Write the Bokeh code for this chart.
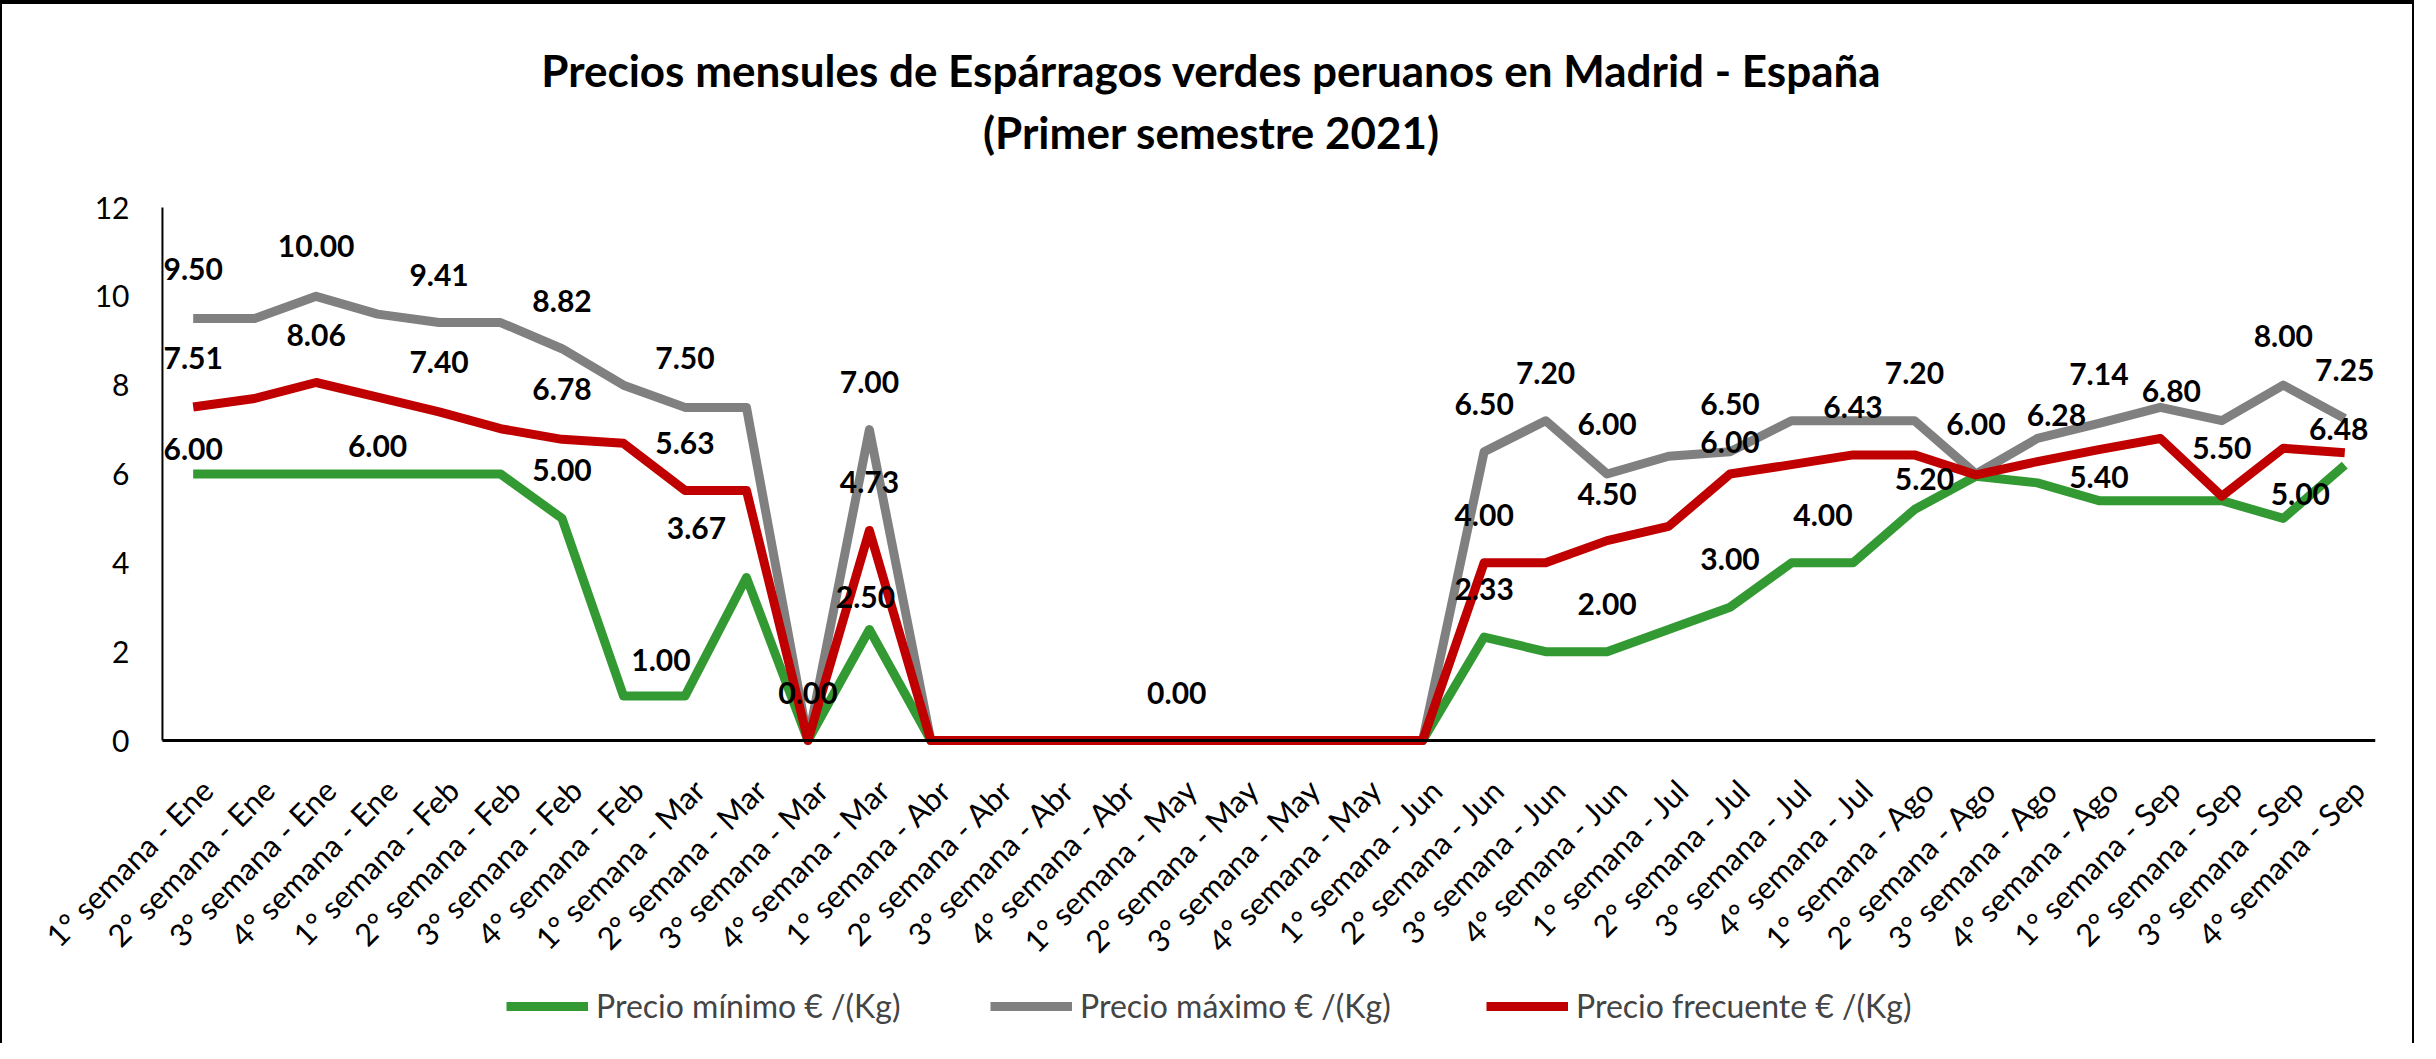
import math
from bokeh.plotting import figure
from bokeh.models import (ColumnDataSource, FactorRange, Range1d,
                          Legend, LegendItem, Label)
from bokeh.embed import file_html
from bokeh.resources import INLINE
from bokeh.core.properties import value

# ---------------- data ----------------
title_lines = ["Precios mensules de Espárragos verdes peruanos en Madrid - España",
               "(Primer semestre 2021)"]

categories = [
    "1° semana - Ene", "2° semana - Ene", "3° semana - Ene", "4° semana - Ene",
    "1° semana - Feb", "2° semana - Feb", "3° semana - Feb", "4° semana - Feb",
    "1° semana - Mar", "2° semana - Mar", "3° semana - Mar", "4° semana - Mar",
    "1° semana - Abr", "2° semana - Abr", "3° semana - Abr", "4° semana - Abr",
    "1° semana - May", "2° semana - May", "3° semana - May", "4° semana - May",
    "1° semana - Jun", "2° semana - Jun", "3° semana - Jun", "4° semana - Jun",
    "1° semana - Jul", "2° semana - Jul", "3° semana - Jul", "4° semana - Jul",
    "1° semana - Ago", "2° semana - Ago", "3° semana - Ago", "4° semana - Ago",
    "1° semana - Sep", "2° semana - Sep", "3° semana - Sep", "4° semana - Sep",
]

precio_minimo = [6.00, 6.00, 6.00, 6.00, 6.00, 6.00, 5.00, 1.00, 1.00, 3.67, 0.00, 2.50,
                 0.00, 0.00, 0.00, 0.00, 0.00, 0.00, 0.00, 0.00, 0.00,
                 2.33, 2.00, 2.00, 2.50, 3.00, 4.00, 4.00, 5.20, 5.95, 5.80, 5.40,
                 5.40, 5.40, 5.00, 6.20]

precio_maximo = [9.50, 9.50, 10.00, 9.60, 9.41, 9.41, 8.82, 8.00, 7.50, 7.50, 0.00, 7.00,
                 0.00, 0.00, 0.00, 0.00, 0.00, 0.00, 0.00, 0.00, 0.00,
                 6.50, 7.20, 6.00, 6.40, 6.50, 7.20, 7.20, 7.20, 6.00, 6.80, 7.14,
                 7.50, 7.20, 8.00, 7.25]

precio_frecuente = [7.51, 7.70, 8.06, 7.73, 7.40, 7.02, 6.78, 6.69, 5.63, 5.63, 0.00, 4.73,
                    0.00, 0.00, 0.00, 0.00, 0.00, 0.00, 0.00, 0.00, 0.00,
                    4.00, 4.00, 4.50, 4.82, 6.00, 6.21, 6.43, 6.43, 5.98, 6.28, 6.55,
                    6.80, 5.50, 6.58, 6.48]

series_names = ["Precio mínimo € /(Kg)", "Precio máximo € /(Kg)", "Precio frecuente € /(Kg)"]

y_ticks = [0, 2, 4, 6, 8, 10, 12]

# which points carry a data label: (series, category index)
label_points = [
    ("max", 0), ("max", 2), ("max", 4), ("max", 6), ("max", 8), ("max", 10), ("max", 11),
    ("max", 16), ("max", 21), ("max", 22), ("max", 23), ("max", 25), ("max", 28),
    ("max", 29), ("max", 31), ("max", 34), ("max", 35),
    ("frec", 0), ("frec", 2), ("frec", 4), ("frec", 6), ("frec", 8), ("frec", 11),
    ("frec", 21), ("frec", 23), ("frec", 25), ("frec", 27), ("frec", 30), ("frec", 32),
    ("frec", 33), ("frec", 35),
    ("min", 0), ("min", 3), ("min", 6), ("min", 8), ("min", 9), ("min", 11), ("min", 21),
    ("min", 23), ("min", 25), ("min", 27), ("min", 28), ("min", 31), ("min", 34),
]
# label placement (pixels: dx right, dy above the point)
label_offsets = [
    (0, 50), (0, 50), (0, 48), (0, 48), (0, 49), (0, 48), (0, 48),
    (0, 48), (0, 48), (0, 48), (0, 50), (0, 48), (0, 48),
    (0, 50), (0, 49), (0, 49), (0, 48),
    (0, 49), (0, 48), (0, 50), (0, 50), (0, 47), (0, 48),
    (0, 48), (0, 47), (0, 32), (0, 48), (19, 47), (11, 47),
    (0, 48), (-6, 24),
    (0, 25), (0, 28), (0, 48), (-24, 36), (-50, 49), (-4, 32), (0, 48),
    (0, 48), (0, 48), (-30, 48), (10, 31), (0, 24), (17, 24),
]

# ---------------- figure ----------------
GREEN, GRAY, RED = "#339933", "#808080", "#C00000"
FONT = "Lato"

# frame spans the full height; value 0 sits at 744px and 12 at 211px of the page
PX_PER_UNIT = (744 - 211) / 12.0
Y_LO = (744 - 1051) / PX_PER_UNIT
Y_HI = (744 - 8) / PX_PER_UNIT

# two blank slots left of the first week leave room for the slanted labels
PAD_FACTORS = [" ", "  "]
N_PAD = len(PAD_FACTORS)
X_LEFT = float(N_PAD)                     # left edge of the first week
X_RIGHT = float(N_PAD + len(categories))  # right edge of the last week

src = ColumnDataSource(dict(cat=categories, mn=precio_minimo, mx=precio_maximo, fr=precio_frecuente))

p = figure(width=2414, height=1043, title=None,
           x_range=FactorRange(factors=PAD_FACTORS + categories, range_padding=0),
           y_range=Range1d(Y_LO, Y_HI), x_axis_location=None, y_axis_location=None,
           output_backend="svg", toolbar_location=None,
           min_border_left=37, min_border_right=41,
           min_border_top=0, min_border_bottom=0)
p.outline_line_color = None
p.grid.grid_line_color = None
p.background_fill_color = "white"
p.border_fill_color = "white"
p.styles = {"border-top": "4px solid black", "border-left": "2px solid black",
            "border-right": "2px solid black"}

# axis lines
p.segment(x0=[X_LEFT], y0=[y_ticks[0]], x1=[X_LEFT], y1=[y_ticks[-1]],
          line_color="black", line_width=2)

r_min = p.line(x="cat", y="mn", source=src, line_color=GREEN, line_width=9, line_join="round")
r_max = p.line(x="cat", y="mx", source=src, line_color=GRAY, line_width=9, line_join="round")
r_fr = p.line(x="cat", y="fr", source=src, line_color=RED, line_width=9, line_join="round")

p.segment(x0=[X_LEFT], y0=[0], x1=[X_RIGHT], y1=[0], line_color="black", line_width=3)

# y tick labels
p.text(x=[X_LEFT] * len(y_ticks), y=y_ticks, text=[str(t) for t in y_ticks],
       x_offset=-33, text_font=value(FONT), text_font_size="30px", text_color="black",
       text_align="right", text_baseline="middle")

# category labels (rotated, ending at each category position)
p.text(x="cat", y=0, text="cat", source=src, angle=math.pi / 4,
       x_offset=14, y_offset=44,
       text_font=value(FONT), text_font_size="31px", text_color="black",
       text_align="right", text_baseline="middle")

# data labels
lookup = {"min": precio_minimo, "max": precio_maximo, "frec": precio_frecuente}
lx, ly, lt, lxo, lyo = [], [], [], [], []
for (s, i), (dx, dy) in zip(label_points, label_offsets):
    v = lookup[s][i]
    lx.append(categories[i])
    ly.append(v)
    lt.append(f"{v:.2f}")
    lxo.append(dx)
    lyo.append(-dy)
lsrc = ColumnDataSource(dict(x=lx, y=ly, t=lt, xo=lxo, yo=lyo))
p.text(x="x", y="y", text="t", source=lsrc, x_offset="xo", y_offset="yo",
       text_font=value(FONT), text_font_style="bold", text_font_size="30px",
       text_color="black", text_align="center", text_baseline="middle")

# title (two lines)
for txt, yy in ((title_lines[0], 978), (title_lines[1], 916)):
    p.add_layout(Label(x=1172, y=yy, x_units="screen", y_units="screen", text=txt,
                       text_font=FONT, text_font_style="bold", text_font_size="44px",
                       text_align="center", text_baseline="middle", text_color="black"))

# legends (one per series so each sits where the reference has it)
for name, r, lx0 in ((series_names[0], r_min, 467), (series_names[1], r_max, 951),
                     (series_names[2], r_fr, 1447)):
    lg = Legend(items=[LegendItem(label=name, renderers=[r])], location=(lx0, 22),
                orientation="horizontal", label_text_font=FONT, label_text_font_size="32px",
                glyph_width=82, glyph_height=30, label_standoff=8, padding=0, margin=0,
                border_line_color=None, background_fill_alpha=0, spacing=0)
    p.add_layout(lg)

open("out.html", "w").write(file_html(p, INLINE))
